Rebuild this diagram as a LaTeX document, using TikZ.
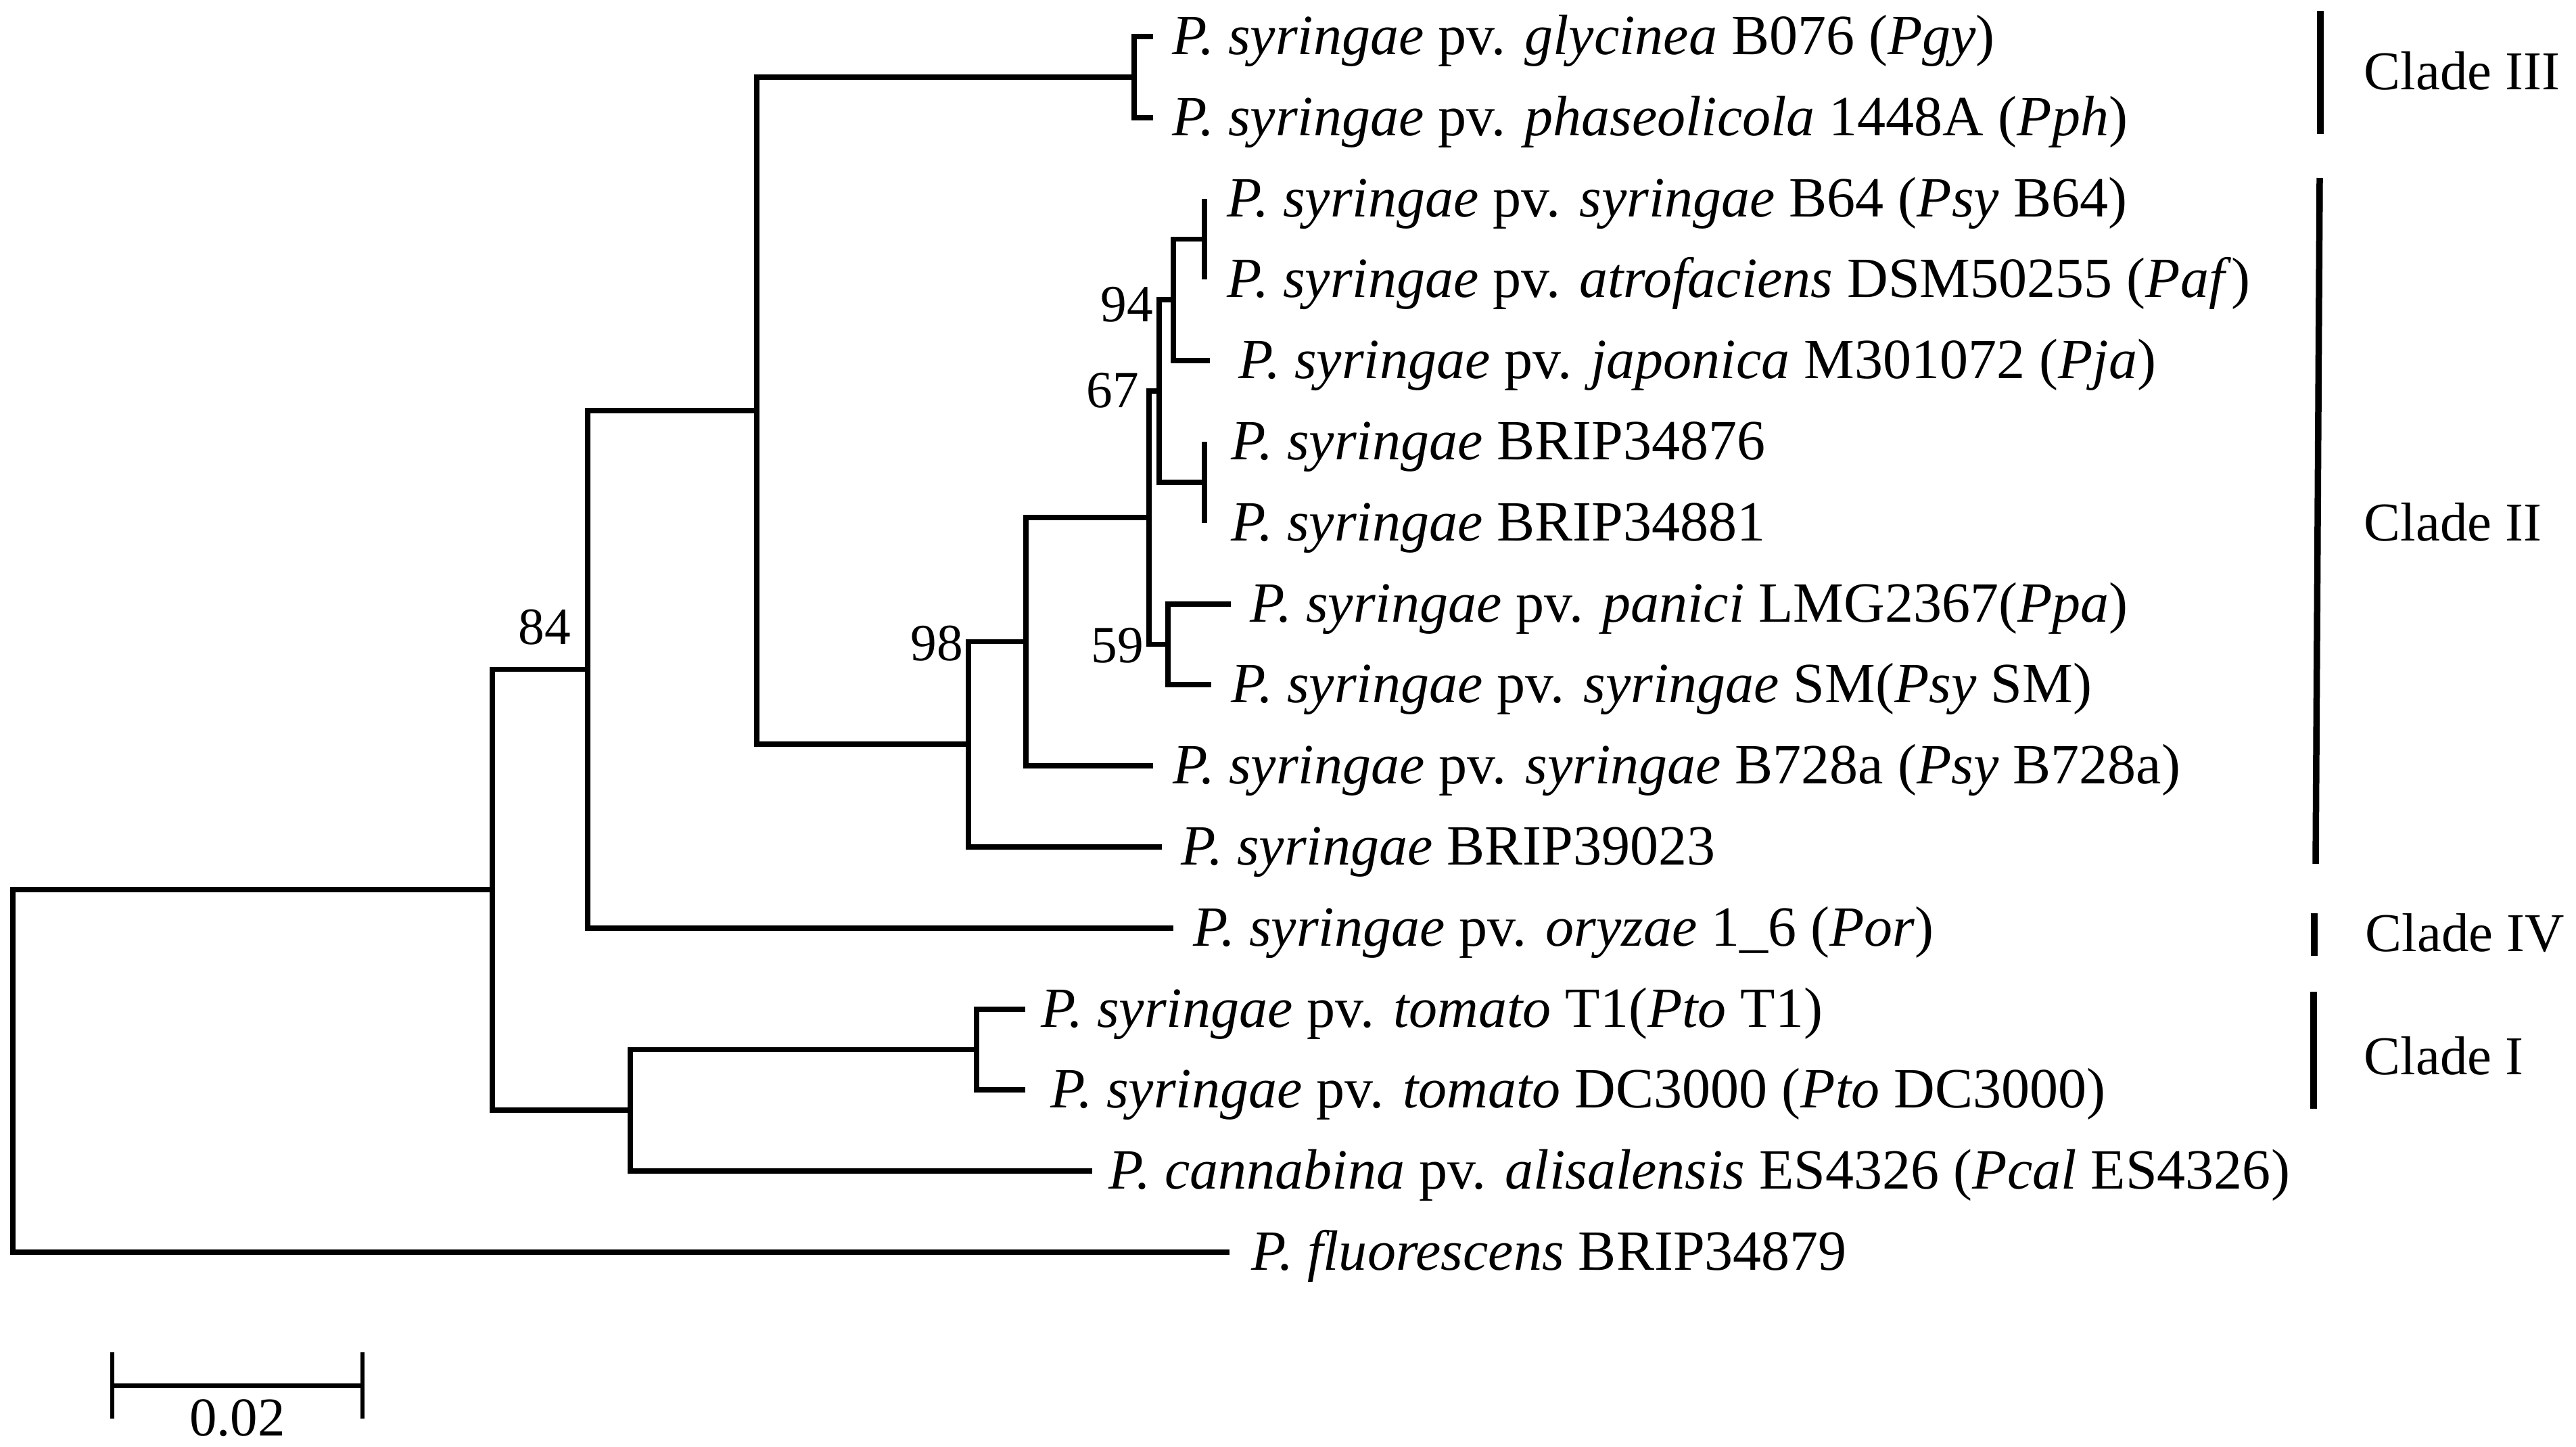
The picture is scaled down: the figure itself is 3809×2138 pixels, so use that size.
\documentclass[tikz,border=0pt]{standalone}
\usepackage{fontspec}
\setmainfont{Liberation Serif}
\begin{document}
\begin{tikzpicture}[x=0.01cm,y=-0.01cm,
  branch/.style={line width=2.2pt,line join=miter},
  cladebar/.style={line width=2.7pt},
  leaf/.style={anchor=base west,inner sep=0pt,font=\fontsize{23.9}{28}\selectfont},
  boot/.style={anchor=center,inner sep=0pt,font=\fontsize{22}{26}\selectfont},
  cladelab/.style={anchor=base west,inner sep=0pt,font=\fontsize{23}{27}\selectfont},
  scalelab/.style={anchor=base,inner sep=0pt,font=\fontsize{23}{27}\selectfont}]
\useasboundingbox (0,0) rectangle (3809,2138);
% leaf tips
\coordinate (l1) at (1705,54);
\coordinate (l2) at (1705,174);
\coordinate (l3) at (1781,294);
\coordinate (l4) at (1781,413);
\coordinate (l5) at (1789,533);
\coordinate (l6) at (1781,653);
\coordinate (l7) at (1781,773);
\coordinate (l8) at (1820,893);
\coordinate (l9) at (1791,1012);
\coordinate (l10) at (1705,1132);
\coordinate (l11) at (1718,1252);
\coordinate (l12) at (1735,1372);
\coordinate (l13) at (1516,1492);
\coordinate (l14) at (1516,1611);
\coordinate (l15) at (1615,1731);
\coordinate (l16) at (1818,1851);
% internal nodes
\coordinate (n3) at (1677,114);
\coordinate (nF) at (1781,353.5);
\coordinate (n94) at (1735,443);
\coordinate (nG) at (1781,713);
\coordinate (nE) at (1714,578);
\coordinate (n59) at (1727,952.5);
\coordinate (n67) at (1699,765);
\coordinate (nC) at (1517,948.5);
\coordinate (n98) at (1432,1100);
\coordinate (nB) at (1119,607);
\coordinate (nA) at (869,989.5);
\coordinate (nT) at (1444,1551.5);
\coordinate (nD) at (932,1641);
\coordinate (n84) at (728,1315);
\coordinate (root) at (19,1583);
% branches
\draw[branch] (l1) -| (n3) |- (l2);
\draw[branch] (l3) -| (nF) |- (l4);
\draw[branch] (nF) -| (n94) |- (l5);
\draw[branch] (l6) -| (nG) |- (l7);
\draw[branch] (n94) -| (nE) |- (nG);
\draw[branch] (l8) -| (n59) |- (l9);
\draw[branch] (nE) -| (n67) |- (n59);
\draw[branch] (n67) -| (nC) |- (l10);
\draw[branch] (nC) -| (n98) |- (l11);
\draw[branch] (n3) -| (nB) |- (n98);
\draw[branch] (nB) -| (nA) |- (l12);
\draw[branch] (l13) -| (nT) |- (l14);
\draw[branch] (nT) -| (nD) |- (l15);
\draw[branch] (nA) -| (n84) |- (nD);
\draw[branch] (n84) -| (root) |- (l16);
% leaf labels
\node[leaf] (t1) at (1733,80) {\textit{P. syringae} pv. \textit{glycinea} B076 (\textit{Pgy})};
\node[leaf] (t2) at (1733,200) {\textit{P. syringae} pv. \textit{phaseolicola} 1448A (\textit{Pph})};
\node[leaf] (t3) at (1814,320) {\textit{P. syringae} pv. \textit{syringae} B64 (\textit{Psy} B64)};
\node[leaf] (t4) at (1814,439) {\textit{P. syringae} pv. \textit{atrofaciens} DSM50255 (\textit{Paf})};
\node[leaf] (t5) at (1831,559) {\textit{P. syringae} pv. \textit{japonica} M301072 (\textit{Pja})};
\node[leaf] (t6) at (1820,679) {\textit{P. syringae} BRIP34876};
\node[leaf] (t7) at (1820,799) {\textit{P. syringae} BRIP34881};
\node[leaf] (t8) at (1848,919) {\textit{P. syringae} pv. \textit{panici} LMG2367(\textit{Ppa})};
\node[leaf] (t9) at (1820,1038) {\textit{P. syringae} pv. \textit{syringae} SM(\textit{Psy} SM)};
\node[leaf] (t10) at (1734,1158) {\textit{P. syringae} pv. \textit{syringae} B728a (\textit{Psy} B728a)};
\node[leaf] (t11) at (1746,1278) {\textit{P. syringae} BRIP39023};
\node[leaf] (t12) at (1764,1398) {\textit{P. syringae} pv. \textit{oryzae} 1\_6 (\textit{Por})};
\node[leaf] (t13) at (1539,1518) {\textit{P. syringae} pv. \textit{tomato} T1(\textit{Pto} T1)};
\node[leaf] (t14) at (1553,1637) {\textit{P. syringae} pv. \textit{tomato} DC3000 (\textit{Pto} DC3000)};
\node[leaf] (t15) at (1639,1757) {\textit{P. cannabina} pv. \textit{alisalensis} ES4326 (\textit{Pcal} ES4326)};
\node[leaf] (t16) at (1850,1877) {\textit{P. fluorescens} BRIP34879};
% bootstrap values
\node[boot] (b84) at (805,927) {84};
\node[boot] (b98) at (1385,951) {98};
\node[boot] (b67) at (1645,577) {67};
\node[boot] (b59) at (1652,954) {59};
\node[boot] (b94) at (1666,450) {94};
% clade bars
\coordinate (c3a) at (3431,16);
\coordinate (c3b) at (3431,198);
\coordinate (c2a) at (3430,263);
\coordinate (c2b) at (3424,1277);
\coordinate (c4a) at (3422,1350);
\coordinate (c4b) at (3422,1413);
\coordinate (c1a) at (3421,1466);
\coordinate (c1b) at (3421,1639);
\draw[cladebar] (c3a) -- (c3b);
\draw[cladebar] (c2a) -- (c2b);
\draw[cladebar] (c4a) -- (c4b);
\draw[cladebar] (c1a) -- (c1b);
\node[cladelab] (k3) at (3495,132) {Clade III};
\node[cladelab] (k2) at (3495,799) {Clade II};
\node[cladelab] (k4) at (3497,1406) {Clade IV};
\node[cladelab] (k1) at (3495,1588) {Clade I};
% scale bar
\coordinate (s1) at (166,2048);
\coordinate (s2) at (536,2048);
\draw[line width=2pt] (s1) -- (s2);
\draw[line width=1.8pt] ([yshift=-14]s1) -- ([yshift=14]s1);
\draw[line width=1.8pt] ([yshift=-14]s2) -- ([yshift=14]s2);
\node[scalelab] (sl) at (351,2122) {0.02};
\end{tikzpicture}
\end{document}
